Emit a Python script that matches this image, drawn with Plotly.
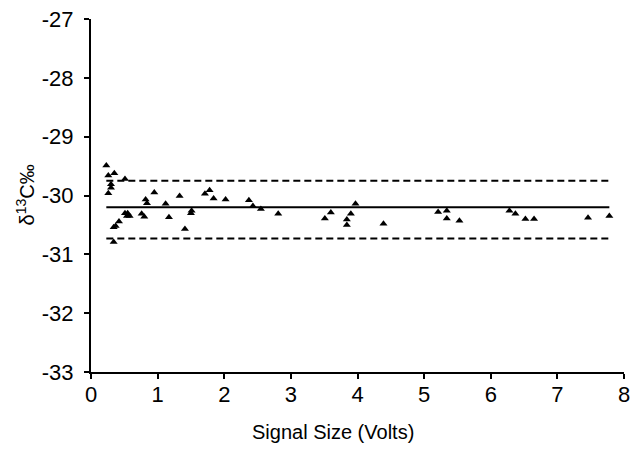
import plotly.graph_objects as go

signal_volts = [0.23, 0.26, 0.35, 0.30, 0.30, 0.26, 0.51, 0.95, 0.82, 0.84, 1.12, 1.33,
                1.71, 1.78, 1.84, 2.02, 2.37, 2.43, 2.55, 2.81, 0.51, 0.55, 0.54, 0.58,
                0.76, 0.80, 1.17, 1.51, 1.50, 0.42, 0.34, 0.37, 1.41, 0.34,
                3.51, 3.60, 3.90, 3.97, 3.84, 3.84, 4.39, 5.21, 5.34, 5.34, 5.53,
                6.28, 6.37, 6.52, 6.65, 7.46, 7.78]
d13c = [-29.49, -29.66, -29.62, -29.81, -29.87, -29.96, -29.72, -29.95, -30.07, -30.13,
        -30.14, -30.01, -29.97, -29.91, -30.05, -30.07, -30.08, -30.18, -30.23, -30.31,
        -30.30, -30.30, -30.35, -30.35, -30.31, -30.36, -30.37, -30.26, -30.30, -30.44,
        -30.54, -30.52, -30.57, -30.79,
        -30.39, -30.29, -30.31, -30.14, -30.41, -30.50, -30.48, -30.28, -30.26, -30.39,
        -30.43, -30.26, -30.31, -30.40, -30.40, -30.38, -30.35]

line_x = [0.23, 7.78]
mean_val = -30.20
upper_val = -29.75
lower_val = -30.73

x_ticks = [0, 1, 2, 3, 4, 5, 6, 7, 8]
x_labels = ["0", "1", "2", "3", "4", "5", "6", "7", "8"]
y_ticks = [-33, -32, -31, -30, -29, -28, -27]
y_labels = ["-33", "-32", "-31", "-30", "-29", "-28", "-27"]

fig = go.Figure()
fig.add_trace(go.Scatter(x=line_x, y=[mean_val, mean_val], mode="lines",
                         line=dict(color="black", width=2), showlegend=False, hoverinfo="skip"))
fig.add_trace(go.Scatter(x=line_x, y=[upper_val, upper_val], mode="lines",
                         line=dict(color="black", width=2, dash="7px,4px"), showlegend=False, hoverinfo="skip"))
fig.add_trace(go.Scatter(x=line_x, y=[lower_val, lower_val], mode="lines",
                         line=dict(color="black", width=2, dash="7px,4px"), showlegend=False, hoverinfo="skip"))
fig.add_trace(go.Scatter(x=signal_volts, y=d13c, mode="markers",
                         marker=dict(symbol="triangle-up", size=7, color="black"),
                         showlegend=False))

font_family = "Liberation Sans, Arial, sans-serif"
fig.update_layout(
    width=631, height=449,
    margin=dict(l=91, r=7, t=19, b=77),
    plot_bgcolor="white", paper_bgcolor="white",
    font=dict(family=font_family, color="black", size=22),
    xaxis=dict(range=[0, 8], tickvals=x_ticks, ticktext=x_labels, showgrid=False, zeroline=False,
               showline=True, linecolor="black", linewidth=2, ticks="outside",
               ticklen=5, tickwidth=1.5, tickcolor="black",
               tickfont=dict(size=22), ticklabelstandoff=-3, ticklabeloverflow="allow",
               automargin=False),
    yaxis=dict(range=[-33, -27], tickvals=y_ticks, ticktext=y_labels, showgrid=False, zeroline=False,
               showline=True, linecolor="black", linewidth=2, ticks="outside",
               ticklen=5, tickwidth=1.5, tickcolor="black",
               tickfont=dict(size=22), ticklabelstandoff=6, ticklabeloverflow="allow",
               automargin=False),
    annotations=[
        dict(text="Signal Size (Volts)", xref="paper", yref="paper",
             x=(333 - 91) / 533, y=(449 - 77 - 432) / 353, xanchor="center", yanchor="middle",
             showarrow=False, font=dict(size=20)),
        dict(text="δ<sup>13</sup>C‰", xref="paper", yref="paper",
             x=(25 - 91) / 533, y=0.5, xanchor="center", yanchor="middle",
             textangle=-90, showarrow=False, font=dict(size=20)),
    ],
)

fig.write_html("out.html", config={"displayModeBar": False},
               post_script="document.body.style.margin='0';")
